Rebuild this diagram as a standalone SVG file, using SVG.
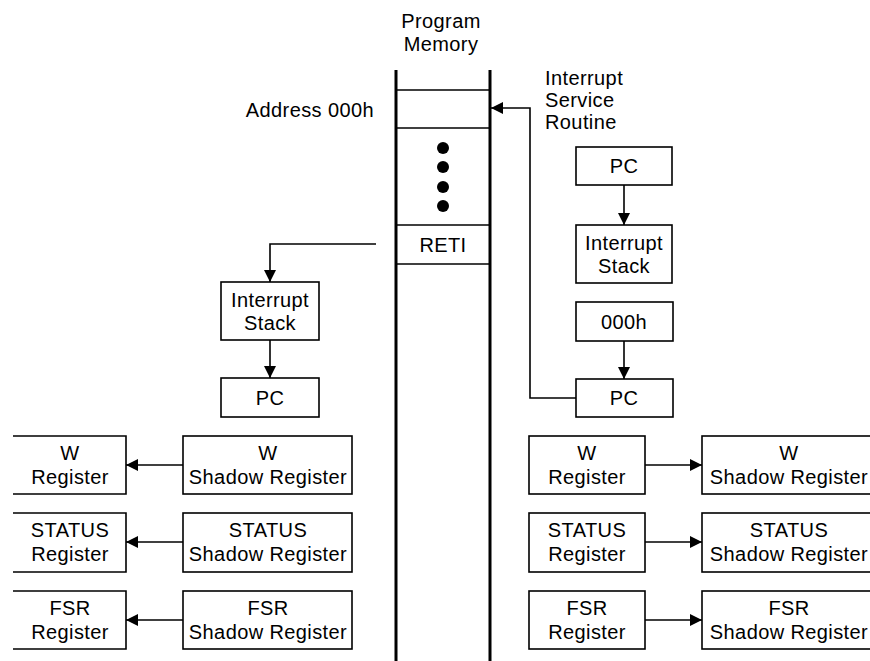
<svg xmlns="http://www.w3.org/2000/svg" width="870" height="661" viewBox="0 0 870 661">
<style>
text{font-family:"Liberation Sans",Arial,sans-serif;font-size:20px;letter-spacing:0.4px;fill:#000;}
.c{text-anchor:middle;}
.box{fill:#fff;stroke:#000;stroke-width:1.6;}
.mem{stroke:#000;stroke-width:3;fill:none;}
.thin{stroke:#000;stroke-width:1.6;fill:none;}
.conn{stroke:#000;stroke-width:1.6;fill:none;marker-end:url(#ah);}
</style>
<defs>
<marker id="ah" markerUnits="userSpaceOnUse" markerWidth="12" markerHeight="12" refX="12" refY="6" orient="auto">
<path d="M0,0 L12,6 L0,12 z" fill="#000"/>
</marker>
</defs>
<rect width="870" height="661" fill="#fff"/>

<g id="program-memory">
<text class="c" x="441" y="28">Program</text>
<text class="c" x="441" y="51">Memory</text>
<line class="mem" x1="396" y1="70" x2="396" y2="661"/>
<line class="mem" x1="490" y1="70" x2="490" y2="661"/>
<line class="thin" x1="396" y1="90" x2="490" y2="90"/>
<line class="thin" x1="396" y1="128" x2="490" y2="128"/>
<line class="thin" x1="396" y1="225" x2="490" y2="225"/>
<line class="thin" x1="396" y1="264" x2="490" y2="264"/>
<circle cx="443" cy="148" r="6"/>
<circle cx="443" cy="167" r="6"/>
<circle cx="443" cy="187" r="6"/>
<circle cx="443" cy="206" r="6"/>
<text class="c" x="443" y="252">RETI</text>
</g>

<g id="address-label"><text x="374" y="117" text-anchor="end">Address 000h</text></g>
<g id="isr-label">
<text x="545" y="85">Interrupt</text>
<text x="545" y="107">Service</text>
<text x="545" y="129">Routine</text>
</g>

<g id="connectors">
<path class="conn" d="M576,398 H530 V108 H491"/>
<path class="conn" d="M624,185 V225"/>
<path class="conn" d="M624,341 V379"/>
<path class="conn" d="M376,244 H270 V282"/>
<path class="conn" d="M270,340 V378"/>
<path class="conn" d="M183,465 H126"/>
<path class="conn" d="M183,542 H126"/>
<path class="conn" d="M183,620 H126"/>
<path class="conn" d="M645,465 H702"/>
<path class="conn" d="M645,542 H702"/>
<path class="conn" d="M645,620 H702"/>
</g>

<g id="pc-right-top"><rect class="box" x="576" y="147" width="96" height="38"/><text class="c" x="624" y="173">PC</text></g>
<g id="stack-right"><rect class="box" x="576" y="225" width="96" height="58"/><text class="c" x="624" y="250">Interrupt</text><text class="c" x="624" y="273">Stack</text></g>
<g id="addr-000h"><rect class="box" x="576" y="302" width="97" height="39"/><text class="c" x="624" y="329">000h</text></g>
<g id="pc-right-bottom"><rect class="box" x="576" y="379" width="97" height="38"/><text class="c" x="624" y="405">PC</text></g>

<g id="stack-left"><rect class="box" x="221" y="282" width="98" height="58"/><text class="c" x="270" y="307">Interrupt</text><text class="c" x="270" y="330">Stack</text></g>
<g id="pc-left"><rect class="box" x="221" y="378" width="98" height="39"/><text class="c" x="270" y="405">PC</text></g>

<g id="w-reg-left"><path class="box" d="M13,436 H126 V494 H13"/><text class="c" x="70" y="460">W</text><text class="c" x="70" y="484">Register</text></g>
<g id="status-reg-left"><path class="box" d="M13,513 H126 V572 H13"/><text class="c" x="70" y="537">STATUS</text><text class="c" x="70" y="561">Register</text></g>
<g id="fsr-reg-left"><path class="box" d="M13,591 H126 V649 H13"/><text class="c" x="70" y="615">FSR</text><text class="c" x="70" y="639">Register</text></g>

<g id="w-shadow-left"><rect class="box" x="183" y="436" width="169" height="58"/><text class="c" x="268" y="460">W</text><text class="c" x="268" y="484">Shadow Register</text></g>
<g id="status-shadow-left"><rect class="box" x="183" y="513" width="169" height="59"/><text class="c" x="268" y="537">STATUS</text><text class="c" x="268" y="561">Shadow Register</text></g>
<g id="fsr-shadow-left"><rect class="box" x="183" y="591" width="169" height="58"/><text class="c" x="268" y="615">FSR</text><text class="c" x="268" y="639">Shadow Register</text></g>

<g id="w-reg-right"><rect class="box" x="529" y="436" width="116" height="58"/><text class="c" x="587" y="460">W</text><text class="c" x="587" y="484">Register</text></g>
<g id="status-reg-right"><rect class="box" x="529" y="513" width="116" height="59"/><text class="c" x="587" y="537">STATUS</text><text class="c" x="587" y="561">Register</text></g>
<g id="fsr-reg-right"><rect class="box" x="529" y="591" width="116" height="58"/><text class="c" x="587" y="615">FSR</text><text class="c" x="587" y="639">Register</text></g>

<g id="w-shadow-right"><rect class="box" x="702" y="436" width="172" height="58"/><text class="c" x="789" y="460">W</text><text class="c" x="789" y="484">Shadow Register</text></g>
<g id="status-shadow-right"><rect class="box" x="702" y="513" width="172" height="59"/><text class="c" x="789" y="537">STATUS</text><text class="c" x="789" y="561">Shadow Register</text></g>
<g id="fsr-shadow-right"><rect class="box" x="702" y="591" width="172" height="58"/><text class="c" x="789" y="615">FSR</text><text class="c" x="789" y="639">Shadow Register</text></g>
</svg>
